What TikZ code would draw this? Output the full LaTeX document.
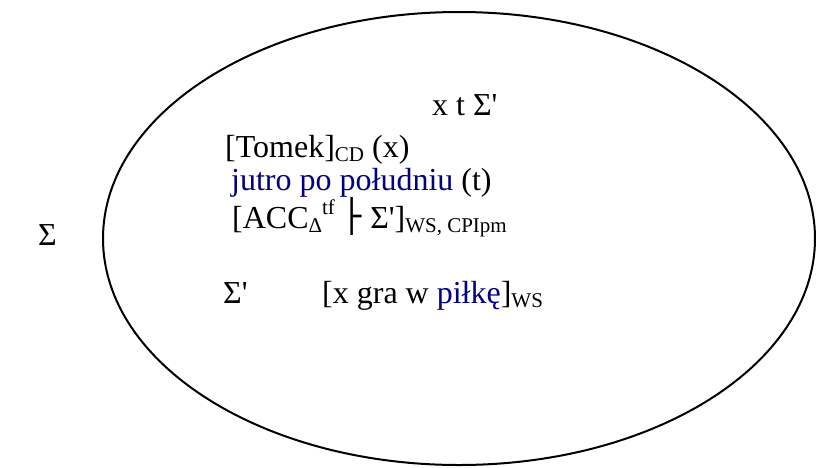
\documentclass[tikz,border=0pt]{standalone}
\usepackage{fontspec}
\setmainfont{Liberation Serif}
\newfontfamily\djv{DejaVu Sans}
\definecolor{navyblue}{RGB}{0,0,128}
\newcommand\sbs[1]{\raisebox{-4pt}{\fontsize{21}{21}\selectfont #1}}
\newcommand\sps[1]{\raisebox{14pt}{\fontsize{21}{21}\selectfont #1}}
\newcommand\apo{\textquotesingle}
\begin{document}
\begin{tikzpicture}[x=1pt,y=-1pt,
  txt/.style={anchor=base west,inner sep=0pt,font=\fontsize{32}{36}\selectfont}]
\useasboundingbox (0,0) rectangle (816,467);
\draw[line width=2pt] (459,238.5) ellipse [x radius=356, y radius=226.5];
\node[txt] (sig) at (38,245) {Σ};
\node[txt] (xts) at (432,115) {x t Σ\apo};
\node[txt] (tom) at (225,157) {[Tomek]\sbs{CD} (x)};
\node[txt] (jut) at (231,190) {\textcolor{navyblue}{jutro po południu} (t)};
\node[txt] (acc) at (232,228) {[ACC\sbs{Δ}\sps{tf} {\djv\bfseries\fontsize{32}{32}\selectfont\raisebox{1pt}{├}} Σ\apo]\sbs{WS, CPIpm}};
\node[txt] (sp) at (223,303) {Σ\apo};
\node[txt] (gra) at (322,303) {[x gra w \textcolor{navyblue}{piłkę}]\sbs{WS}};
\end{tikzpicture}
\end{document}
